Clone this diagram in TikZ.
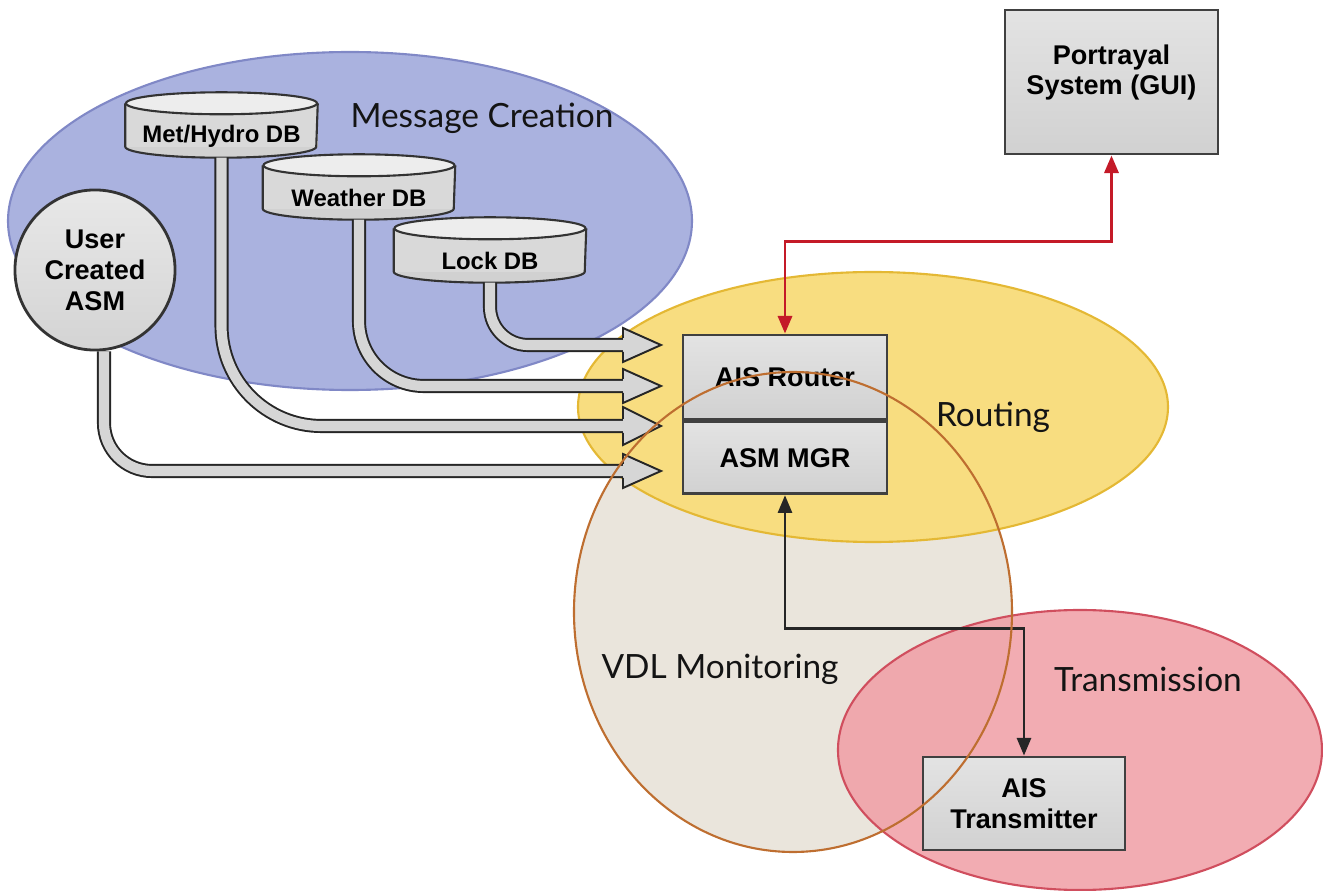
\documentclass[tikz,border=0pt]{standalone}
\usepackage{fontspec}
\usetikzlibrary{arrows.meta, positioning, calc}
\newfontfamily\boxfont{Liberation Sans}
\newfontfamily\areafont{Lato}
\definecolor{mcblue}{RGB}{170,178,223}
\definecolor{mcedge}{RGB}{128,136,198}
\definecolor{rtyellow}{RGB}{248,221,128}
\definecolor{rtedge}{RGB}{228,184,52}
\definecolor{vdlbeige}{RGB}{234,229,220}
\definecolor{vdledge}{RGB}{190,110,48}
\definecolor{txpink}{RGB}{240,158,165}
\definecolor{txedge}{RGB}{208,78,94}
\definecolor{linkred}{RGB}{196,26,40}
\pgfdeclarelayer{back}
\pgfdeclarelayer{mid}
\pgfdeclarelayer{front}
\pgfsetlayers{back,mid,main,front}

\begin{document}
\begin{tikzpicture}[x=0.01cm, y=-0.01cm,
  box/.style={rectangle, draw=black!75, line width=0.8pt,
    top color=gray!22, bottom color=gray!36, inner sep=0pt,
    minimum width=2.04cm, align=center,
    font=\boxfont\bfseries\fontsize{7.7}{8.8}\selectfont},
  drum/.style={rectangle, inner sep=0pt, minimum width=1.91cm,
    minimum height=0.42cm, font=\boxfont\bfseries\fontsize{6.8}{8}\selectfont},
  drumline/.style={draw=black!80, line width=0.6pt},
  area/.style={anchor=base, font=\areafont\fontsize{9.5}{11}\selectfont, text=black!92},
  pipe/.style={draw=black!85, line width=0.55pt, double=gray!32, double distance=2.9pt},
  head/.style={draw=black!85, line width=0.55pt, fill=gray!32, line join=miter},
  link/.style={{Triangle[length=5pt,width=4pt]}-{Triangle[length=5pt,width=4pt]}}
]
  \useasboundingbox (0,0) rectangle (1323,891);

  % regions
  \begin{pgfonlayer}{back}
    \fill[vdlbeige] (793,612) ellipse [x radius=219, y radius=240];
    \filldraw[fill=rtyellow, draw=rtedge, line width=0.6pt] (873,407) ellipse [x radius=295, y radius=135];
    \filldraw[fill=mcblue, draw=mcedge, line width=0.6pt] (350,221) ellipse [x radius=342, y radius=169];
    \filldraw[fill=txpink, fill opacity=0.85, draw=txedge, line width=0.6pt] (1080,750) ellipse [x radius=242, y radius=140];
  \end{pgfonlayer}

  \node[area] (mcLbl) at (482,128) {Message Creation};
  \node[area] (rtLbl) at (993,427) {Routing};
  \node[area] (vdlLbl) at (720,679) {VDL Monitoring};
  \node[area] (txLbl) at (1148,692) {Transmission};

  % sources
  \node[drum] (met) at (221.5,136) {Met/Hydro DB};
  \node[drum] (wx) at (359,198) {Weather DB};
  \node[drum] (lock) at (490,261) {Lock DB};
  \node[circle, draw=black!80, line width=0.8pt, top color=gray!18, bottom color=gray!34,
    minimum size=1.6cm, inner sep=0pt, align=center,
    font=\boxfont\bfseries\fontsize{7.7}{8.8}\selectfont] (usr) at (95,270) {User\\Created\\ASM};

  \begin{pgfonlayer}{mid}
    \foreach \d in {met,wx,lock}{
      \fill[gray!36] ($(\d.south)+(0,-11)$) ellipse [x radius=95.5, y radius=11];
      \fill[gray!30] ($(\d.north west)+(0,-11)$) rectangle ($(\d.south east)+(0,-11)$);
      \draw[drumline] ($(\d.north west)+(0,-11)$) -- ($(\d.south west)+(0,-11)$)
        arc[start angle=180, end angle=0, x radius=95.5, y radius=11] -- ($(\d.north east)+(0,-11)$);
      \filldraw[fill=gray!14, drumline] ($(\d.north)+(0,-11)$) ellipse [x radius=95.5, y radius=11];
    }
  \end{pgfonlayer}

  % routing and others
  \node[box, minimum height=0.84cm] (rtr) at (785,377) {AIS Router};
  \node[box, minimum height=0.72cm, below=0pt of rtr] (mgr) {ASM MGR};
  \node[box, minimum width=2.13cm, minimum height=1.44cm, text depth=7pt] (gui) at (1111.5,82) {Portrayal\\System (GUI)};
  \node[box, minimum width=2.02cm, minimum height=0.93cm] (tx) at (1024,803.5) {AIS\\Transmitter};

  % block arrows into the router
  \coordinate (inLock) at (623,345);
  \coordinate (inWx) at (623,386);
  \coordinate (inMet) at (623,426);
  \coordinate (inUsr) at (623,471);

  \draw[pipe, rounded corners=0.38cm] (lock.south) |- (inLock);
  \filldraw[head] ($(inLock)+(0,-7)$) -- ++(0,-10) -- ++(38,17) -- ++(-38,17) -- ++(0,-10);
  \draw[pipe, rounded corners=0.65cm] (wx.south) |- (inWx);
  \filldraw[head] ($(inWx)+(0,-7)$) -- ++(0,-10) -- ++(38,17) -- ++(-38,17) -- ++(0,-10);
  \draw[pipe, rounded corners=1cm] (met.south) |- (inMet);
  \filldraw[head] ($(inMet)+(0,-7)$) -- ++(0,-12) -- ++(38,19) -- ++(-38,19) -- ++(0,-12);
  \draw[pipe, rounded corners=0.48cm] ($(usr.south)+(9,0)$) |- (inUsr);
  \filldraw[head] ($(inUsr)+(0,-7)$) -- ++(0,-10) -- ++(38,17) -- ++(-38,17) -- ++(0,-10);

  \draw[link, linkred, line width=0.85pt] (gui.south) -- ++(0,86) -| (rtr.north);
  \draw[link, black!85, line width=0.7pt] (mgr.south) -- ++(0,133) -| (tx.north);

  \begin{pgfonlayer}{front}
    \draw[vdledge, line width=0.6pt] (793,612) ellipse [x radius=219, y radius=240];
  \end{pgfonlayer}
\end{tikzpicture}
\end{document}
